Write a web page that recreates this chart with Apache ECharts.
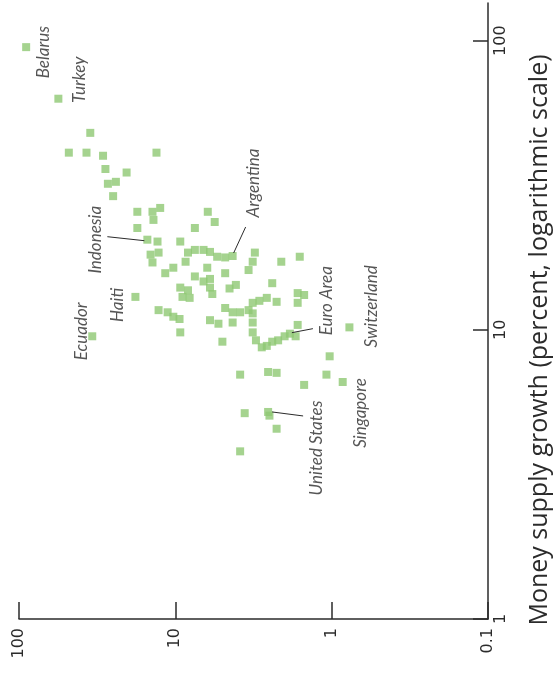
<!DOCTYPE html>
<html>
<head>
<meta charset="utf-8">
<script src="https://cdn.jsdelivr.net/npm/echarts@6/dist/echarts.min.js"></script>
<style>
html, body { margin: 0; padding: 0; background: #ffffff; }
#chart { width: 553px; height: 675px; }
</style>
</head>
<body>
<div id="chart"></div>
<script>
// Inflation rate (percent) for each country, unnamed countries
const inflation = [
  35, 48, 37, 29, 13.2, 28, 20.5, 27, 24, 25,
  17.5, 14, 12.5, 13.8, 17.5, 13, 14.4, 12.8, 14, 11.6,
  10.3, 9.3, 7.5, 6.2, 5.6, 8.3, 7.5, 6.6, 6.0, 5.4,
  4.8, 8.6, 3.1, 3.2, 3.4, 2.1, 1.6, 6.25, 4.8, 7.5,
  6.6, 6.0, 6.0, 5.8, 9.3, 8.3, 9.0, 8.1, 4.5, 4.1,
  2.4, 12.8, 11.2, 10.3, 9.4, 9.3, 6.0, 5.3, 5.0, 4.8,
  4.3, 3.85, 4.3, 3.4, 3.2, 2.9, 2.6, 2.25, 3.2, 3.2,
  3.2, 3.05, 2.8, 2.6, 2.4, 2.2, 2.0, 1.7, 1.65, 1.5,
  1.65, 1.65, 1.03, 1.08, 1.5, 3.85, 2.55, 2.25, 3.6, 2.25,
  3.85, 2.5
];
// Money supply growth (percent) for the same countries
const moneyGrowth = [
  48, 41, 41, 40, 41, 36, 35, 32, 32.5, 29,
  25.6, 25.6, 26.4, 24, 22.5, 20.2, 18.2, 18.5, 17.1, 15.7,
  16.4, 20.2, 22.5, 25.6, 23.6, 18.5, 18.9, 18.9, 18.6, 17.9,
  17.8, 17.2, 18.5, 17.2, 16.1, 17.2, 17.9, 16.4, 15.7, 15.3,
  14.7, 15.0, 14.0, 13.3, 14.0, 13.7, 13.0, 12.9, 13.9, 14.3,
  14.5, 11.7, 11.5, 11.1, 10.9, 9.8, 10.8, 10.5, 9.1, 11.9,
  11.5, 11.5, 10.6, 11.7, 12.4, 12.6, 12.9, 12.5, 11.4, 10.6,
  9.8, 9.2, 8.7, 8.8, 9.1, 9.2, 9.5, 9.5, 13.4, 13.2,
  12.4, 10.4, 8.1, 7.0, 6.45, 7.0, 7.15, 7.1, 5.15, 4.55,
  3.8, 5.05
];
// Countries called out by name
const namedCountries = ['Belarus', 'Turkey', 'Indonesia', 'Argentina', 'Haiti',
  'Euro Area', 'Switzerland', 'Singapore', 'United States', 'Ecuador'];
const namedInflation = [90, 56, 15.1, 4.3, 18, 1.85, 0.77, 0.85, 2.55, 34];
const namedMoney = [95, 63, 20.5, 18, 13, 9.7, 10.2, 6.6, 5.2, 9.5];

// Axis tick values
const inflationTicks = [0.1, 1, 10, 100];
const moneyTicks = [1, 10, 100];

// Screen offset (pixels) of each name's centre from its marker,
// and for the pointed names the two ends of the leader line, also relative to the marker
const nameLayout = {
  'Belarus':       { dx: 17,  dy: 5 },
  'Turkey':        { dx: 21,  dy: -19 },
  'Indonesia':     { dx: -52, dy: 0,   leader: [[-40, -3], [-3, 1]] },
  'Argentina':     { dx: 21,  dy: -73, leader: [[13, -29], [1, -3]] },
  'Haiti':         { dx: -18, dy: 8 },
  'Euro Area':     { dx: 37,  dy: -33, leader: [[23, -5], [2, -1]] },
  'Switzerland':   { dx: 22,  dy: -21 },
  'Singapore':     { dx: 18,  dy: 31 },
  'United States': { dx: 48,  dy: 36,  leader: [[35, 4], [4, 0]] },
  'Ecuador':       { dx: -11, dy: -5 }
};

const markerColor = '#8fc873';
const inkColor = '#2b2b2b';
const axisTitle = 'Money supply growth (percent, logarithmic scale)';

const points = inflation.map((v, i) => [v, moneyGrowth[i]]);
const namedPoints = namedCountries.map((name, i) => ({
  name: name,
  value: [namedInflation[i], namedMoney[i]]
}));

const chart = echarts.init(document.getElementById('chart'), null, { renderer: 'canvas' });

chart.setOption({
  animation: false,
  backgroundColor: '#ffffff',
  grid: { left: 19, right: 65, top: 3, bottom: 56 },
  xAxis: {
    type: 'log',
    logBase: 10,
    min: 0.1,
    max: 100,
    inverse: true,
    position: 'bottom',
    axisLine: { lineStyle: { color: inkColor, width: 1.5 } },
    axisTick: { customValues: inflationTicks, inside: true, length: 17, lineStyle: { color: inkColor, width: 1.5 } },
    axisLabel: {
      customValues: inflationTicks,
      rotate: 90,
      margin: 9,
      fontSize: 16,
      fontFamily: 'DejaVu Sans',
      color: inkColor
    },
    splitLine: { show: false }
  },
  yAxis: {
    type: 'log',
    logBase: 10,
    min: 1,
    max: 135,
    position: 'right',
    axisLine: { lineStyle: { color: inkColor, width: 1.5 } },
    axisTick: { customValues: moneyTicks, inside: true, length: 15, lineStyle: { color: inkColor, width: 1.5 } },
    axisLabel: {
      customValues: moneyTicks,
      rotate: 90,
      margin: 5,
      fontSize: 16,
      fontFamily: 'DejaVu Sans',
      color: inkColor
    },
    splitLine: { show: false }
  },
  series: [
    {
      type: 'scatter',
      symbol: 'rect',
      symbolSize: 8,
      itemStyle: { color: markerColor },
      data: points
    },
    {
      type: 'scatter',
      symbol: 'rect',
      symbolSize: 8,
      itemStyle: { color: markerColor },
      data: namedPoints,
      label: {
        show: true,
        position: 'inside',
        formatter: '{b}',
        rotate: 90,
        align: 'center',
        verticalAlign: 'middle',
        fontSize: 17,
        fontStyle: 'italic',
        fontFamily: 'Lato',
        color: inkColor
      },
      // The label is turned a quarter turn about its anchor, so the shift is given in the turned frame
      labelLayout: function (params) {
        const o = nameLayout[namedCountries[params.dataIndex]];
        return { dx: -o.dy, dy: o.dx };
      }
    }
  ]
});

// Axis title and leader lines, placed from the markers' positions on the chart
const graphics = [{
  type: 'text',
  x: 540,
  y: 340,
  rotation: Math.PI / 2,
  style: {
    text: axisTitle,
    font: '25px "Open Sans"',
    fill: inkColor,
    align: 'center',
    verticalAlign: 'middle'
  }
}];
namedCountries.forEach((name, i) => {
  const lead = nameLayout[name].leader;
  if (!lead) return;
  const p = chart.convertToPixel({ seriesIndex: 1 }, [namedInflation[i], namedMoney[i]]);
  graphics.push({
    type: 'line',
    shape: {
      x1: p[0] + lead[0][0], y1: p[1] + lead[0][1],
      x2: p[0] + lead[1][0], y2: p[1] + lead[1][1]
    },
    style: { stroke: inkColor, lineWidth: 1 },
    z: 10
  });
});
chart.setOption({ graphic: graphics });
</script>
</body>
</html>
